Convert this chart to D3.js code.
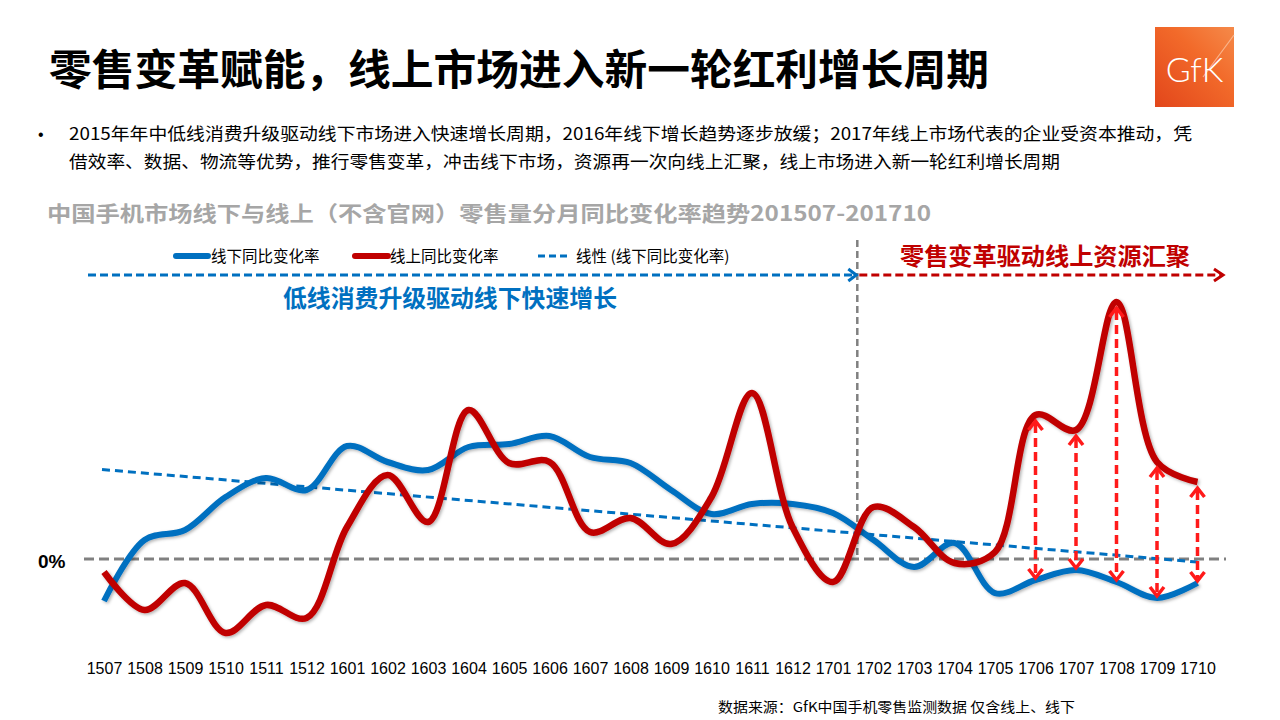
<!DOCTYPE html>
<html>
<head>
<meta charset="utf-8">
<script src="https://cdn.jsdelivr.net/npm/d3@7"></script>
<style>
  html, body { margin: 0; padding: 0; background: #fff; }
  svg { display: block; }
</style>
</head>
<body>
<svg id="chart" width="1280" height="720"></svg>
<script>
// ---- data ----
const months = ["1507","1508","1509","1510","1511","1512","1601","1602","1603","1604","1605","1606","1607","1608","1609","1610","1611","1612","1701","1702","1703","1704","1705","1706","1707","1708","1709","1710"];
// 线下同比变化率 (offline YoY %)
const offline = [-4.2, 1.9, 2.9, 6.2, 8.1, 6.9, 11.3, 9.7, 8.9, 11.2, 11.5, 12.3, 10.2, 9.6, 6.9, 4.5, 5.5, 5.5, 4.6, 1.9, -0.8, 1.6, -3.4, -2.1, -1.1, -2.3, -3.9, -2.4];
// 线上同比变化率 (online YoY %)
const online = [-1.3, -5.1, -2.4, -7.4, -4.6, -5.9, 3.2, 8.4, 3.7, 14.9, 9.6, 9.7, 2.7, 4.1, 1.5, 6.2, 16.6, 3.2, -2.3, 5.2, 3.2, -0.4, 0.7, 14.4, 12.9, 25.7, 9.7, 7.7];
const gapMonths = ["1706","1707","1708","1709","1710"];
const legendLabels = ["线下同比变化率", "线上同比变化率", "线性 (线下同比变化率)"];

const title = "零售变革赋能，线上市场进入新一轮红利增长周期";
const bulletLines = [
  "2015年年中低线消费升级驱动线下市场进入快速增长周期，2016年线下增长趋势逐步放缓；2017年线上市场代表的企业受资本推动，凭",
  "借效率、数据、物流等优势，推行零售变革，冲击线下市场，资源再一次向线上汇聚，线上市场进入新一轮红利增长周期"
];
const chartTitle = "中国手机市场线下与线上（不含官网）零售量分月同比变化率趋势201507-201710";
const phase1 = "低线消费升级驱动线下快速增长";
const phase2 = "零售变革驱动线上资源汇聚";
const source = "数据来源：GfK中国手机零售监测数据 仅含线上、线下";

// ---- setup ----
const svg = d3.select("#chart");
const CJK = "'Noto Sans CJK SC', 'Noto Sans', sans-serif";
const BLUE = "#0070C0", RED = "#C00000", BRIGHTRED = "#FF1A1A", GRAY = "#808080";

const x = d3.scalePoint().domain(months).range([104, 1197.5]);
const y = d3.scaleLinear().domain([-10, 30]).range([659, 259]);

const defs = svg.append("defs");
const grad = defs.append("linearGradient").attr("id", "gfk").attr("x1", "0").attr("y1", "1").attr("x2", "1").attr("y2", "0");
grad.append("stop").attr("offset", "0%").attr("stop-color", "#E2461B");
grad.append("stop").attr("offset", "60%").attr("stop-color", "#F26A2A");
grad.append("stop").attr("offset", "100%").attr("stop-color", "#F58A4A");
const shadow = defs.append("filter").attr("id", "shadow").attr("x", "-5%").attr("y", "-5%").attr("width", "110%").attr("height", "110%");
shadow.append("feDropShadow").attr("dx", 1.5).attr("dy", 1.5).attr("stdDeviation", 1.5).attr("flood-color", "#000").attr("flood-opacity", 0.3);

// ---- header ----
svg.append("text").attr("x", 49).attr("y", 85)
  .attr("font-family", CJK).attr("font-weight", 700).attr("font-size", 42).attr("fill", "#000")
  .attr("textLength", 940).attr("lengthAdjust", "spacingAndGlyphs")
  .text(title);

// GfK logo
const logo = svg.append("g").attr("transform", "translate(1155,27)");
logo.append("rect").attr("width", 79).attr("height", 80).attr("fill", "url(#gfk)");
logo.append("line").attr("x1", 48).attr("y1", 50).attr("x2", 79).attr("y2", 8).attr("stroke", "#FBC3A0").attr("stroke-width", 1.2).attr("opacity", 0.8);
logo.append("text").attr("x", 39.5).attr("y", 55).attr("text-anchor", "middle")
  .attr("font-family", "Lato, 'Open Sans', sans-serif").attr("font-weight", 300).attr("font-size", 34).attr("fill", "#fff")
  .text("GfK");

// bullet
svg.append("text").attr("x", 38).attr("y", 140).attr("font-family", "Liberation Sans, sans-serif").attr("font-size", 16).attr("fill", "#000").text("•");
bulletLines.forEach((t, i) => {
  svg.append("text").attr("x", 69).attr("y", 140 + i * 28)
    .attr("font-family", CJK).attr("font-size", 17.5).attr("fill", "#000")
    .attr("textLength", i === 0 ? 1123 : 991).attr("lengthAdjust", "spacingAndGlyphs")
    .text(t);
});

// chart title
svg.append("text").attr("x", 47).attr("y", 221)
  .attr("font-family", CJK).attr("font-weight", 700).attr("font-size", 21).attr("fill", "#A6A6A6")
  .attr("textLength", 884).attr("lengthAdjust", "spacingAndGlyphs")
  .text(chartTitle);

// ---- legend ----
const legendY = 256;
const lg = svg.append("g").attr("font-family", CJK).attr("font-size", 15.5).attr("fill", "#000");
lg.append("line").attr("x1", 176).attr("x2", 208).attr("y1", legendY).attr("y2", legendY).attr("stroke", BLUE).attr("stroke-width", 6).attr("stroke-linecap", "round");
lg.append("text").attr("x", 211).attr("y", legendY + 5.5).text(legendLabels[0]);
lg.append("line").attr("x1", 355).attr("x2", 388).attr("y1", legendY).attr("y2", legendY).attr("stroke", RED).attr("stroke-width", 6).attr("stroke-linecap", "round");
lg.append("text").attr("x", 390).attr("y", legendY + 5.5).text(legendLabels[1]);
lg.append("line").attr("x1", 538).attr("x2", 571).attr("y1", legendY).attr("y2", legendY).attr("stroke", BLUE).attr("stroke-width", 3).attr("stroke-dasharray", "7,4");
lg.append("text").attr("x", 576).attr("y", legendY + 5.5).text(legendLabels[2]);

// ---- reference lines ----
const splitX = x("1701") + 0.6 * x.step();
svg.append("line").attr("x1", 84).attr("x2", 1226).attr("y1", y(0)).attr("y2", y(0))
  .attr("stroke", GRAY).attr("stroke-width", 3).attr("stroke-dasharray", "10,5");
svg.append("line").attr("x1", splitX).attr("x2", splitX).attr("y1", 240).attr("y2", y(0) - 2)
  .attr("stroke", GRAY).attr("stroke-width", 2.5).attr("stroke-dasharray", "7,4");

svg.append("text").attr("x", 38).attr("y", y(0) + 9)
  .attr("font-family", "Liberation Sans, Arial, sans-serif").attr("font-weight", 700).attr("font-size", 19).attr("fill", "#000")
  .text("0%");

// phase arrows
const arrowY = 275;
svg.append("line").attr("x1", 88).attr("x2", splitX - 2).attr("y1", arrowY).attr("y2", arrowY)
  .attr("stroke", BLUE).attr("stroke-width", 3).attr("stroke-dasharray", "8,4");
svg.append("path").attr("d", `M${splitX - 9},${arrowY - 6}L${splitX - 1},${arrowY}L${splitX - 9},${arrowY + 6}`)
  .attr("fill", "none").attr("stroke", BLUE).attr("stroke-width", 3);
svg.append("line").attr("x1", splitX + 2).attr("x2", 1222).attr("y1", arrowY).attr("y2", arrowY)
  .attr("stroke", RED).attr("stroke-width", 3).attr("stroke-dasharray", "8,4");
svg.append("path").attr("d", `M1214,${arrowY - 6}L1223,${arrowY}L1214,${arrowY + 6}`)
  .attr("fill", "none").attr("stroke", RED).attr("stroke-width", 3);

svg.append("text").attr("x", 450).attr("y", 307).attr("text-anchor", "middle")
  .attr("font-family", CJK).attr("font-weight", 700).attr("font-size", 24).attr("fill", BLUE)
  .attr("textLength", 334).attr("lengthAdjust", "spacingAndGlyphs")
  .text(phase1);
svg.append("text").attr("x", 1045).attr("y", 265).attr("text-anchor", "middle")
  .attr("font-family", CJK).attr("font-weight", 700).attr("font-size", 24).attr("fill", RED)
  .attr("textLength", 290).attr("lengthAdjust", "spacingAndGlyphs")
  .text(phase2);

// ---- trend line (linear regression of offline) ----
const n = offline.length;
const idx = d3.range(n);
const mx = d3.mean(idx), my = d3.mean(offline);
const slope = d3.sum(idx, i => (i - mx) * (offline[i] - my)) / d3.sum(idx, i => (i - mx) ** 2);
const icpt = my - slope * mx;
svg.append("line")
  .attr("x1", x(months[0]) - 2).attr("y1", y(icpt))
  .attr("x2", x(months[n - 1])).attr("y2", y(icpt + slope * (n - 1)))
  .attr("stroke", BLUE).attr("stroke-width", 3).attr("stroke-dasharray", "8,5");

// ---- series ----
const line = d3.line().x((d, i) => x(months[i])).y(d => y(d)).curve(d3.curveCatmullRom.alpha(0.5));
svg.append("path").datum(offline).attr("d", line)
  .attr("fill", "none").attr("stroke", BLUE).attr("stroke-width", 6).attr("stroke-linejoin", "round")
  .attr("filter", "url(#shadow)");
svg.append("path").datum(online).attr("d", line)
  .attr("fill", "none").attr("stroke", RED).attr("stroke-width", 6.5).attr("stroke-linejoin", "round")
  .attr("filter", "url(#shadow)");

// ---- gap arrows ----
const ga = svg.append("g").attr("stroke", BRIGHTRED).attr("fill", "none");
gapMonths.forEach(m => {
  const i = months.indexOf(m);
  const cx = x(m);
  const top = y(online[i]) + 6, bot = y(offline[i]) - 2;
  ga.append("line").attr("x1", cx).attr("x2", cx).attr("y1", top + 3).attr("y2", bot - 3)
    .attr("stroke-width", 3.5).attr("stroke-dasharray", "9,5");
  ga.append("path").attr("d", `M${cx - 7},${top + 9}L${cx},${top}L${cx + 7},${top + 9}`).attr("stroke-width", 3.5);
  ga.append("path").attr("d", `M${cx - 7},${bot - 9}L${cx},${bot}L${cx + 7},${bot - 9}`).attr("stroke-width", 3.5);
});

// ---- x axis labels ----
const xAxis = d3.axisBottom(x).tickSize(0).tickPadding(0);
const ax = svg.append("g").attr("transform", "translate(0,663)").call(xAxis);
ax.select(".domain").remove();
ax.selectAll("text").attr("font-family", "Liberation Sans, Arial, sans-serif").attr("font-size", 16).attr("fill", "#000");

// source
svg.append("text").attr("x", 718).attr("y", 712)
  .attr("font-family", CJK).attr("font-size", 13.5).attr("fill", "#000")
  .attr("textLength", 357).attr("lengthAdjust", "spacingAndGlyphs")
  .text(source);
</script>
</body>
</html>
